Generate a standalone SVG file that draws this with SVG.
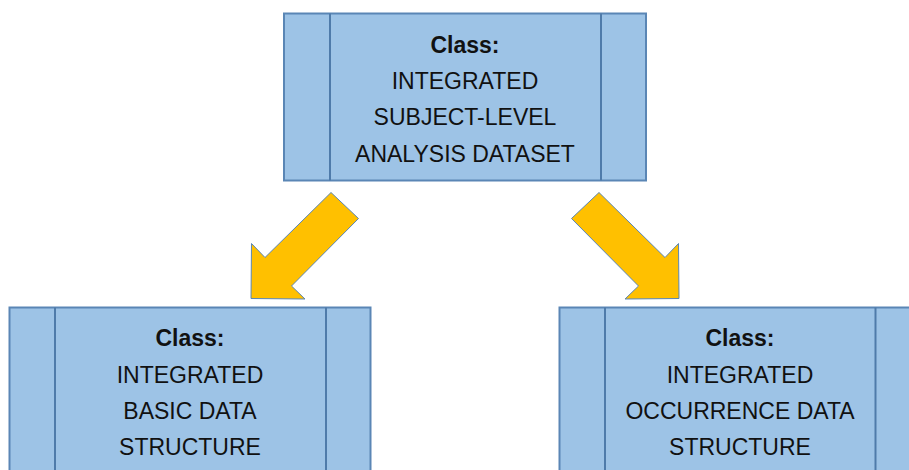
<svg xmlns="http://www.w3.org/2000/svg" width="909" height="470" viewBox="0 0 909 470">
<style>
.box{fill:#9DC3E6;stroke:#5A86B5;stroke-width:2}
.div{stroke:#4F7BAA;stroke-width:2}
.arr{fill:#FFC000;stroke:#5A86B5;stroke-width:1}
text{font-family:"Liberation Sans",Arial,sans-serif;font-size:23px;fill:#111;text-anchor:middle}
.b{font-weight:bold}
</style>
<rect width="909" height="470" fill="#fff"/>
<g id="top">
<rect class="box" x="284" y="13.5" width="362" height="167"/>
<line class="div" x1="330" y1="13.5" x2="330" y2="180.5"/>
<line class="div" x1="601" y1="13.5" x2="601" y2="180.5"/>
<text class="b" x="465" y="53">Class:</text>
<text x="465" y="89">INTEGRATED</text>
<text x="465" y="125">SUBJECT-LEVEL</text>
<text x="465" y="162">ANALYSIS DATASET</text>
</g>
<g id="left">
<rect class="box" x="9.5" y="307.5" width="361" height="170"/>
<line class="div" x1="55" y1="307.5" x2="55" y2="477"/>
<line class="div" x1="326" y1="307.5" x2="326" y2="477"/>
<text class="b" x="190" y="346">Class:</text>
<text x="190" y="383">INTEGRATED</text>
<text x="190" y="419">BASIC DATA</text>
<text x="190" y="455">STRUCTURE</text>
</g>
<g id="right">
<rect class="box" x="559.5" y="307.5" width="362" height="170"/>
<line class="div" x1="605" y1="307.5" x2="605" y2="477"/>
<line class="div" x1="875.5" y1="307.5" x2="875.5" y2="477"/>
<text class="b" x="740" y="346">Class:</text>
<text x="740" y="383">INTEGRATED</text>
<text x="740" y="419">OCCURRENCE DATA</text>
<text x="740" y="455">STRUCTURE</text>
</g>
<g id="connectors">
<polygon class="arr" points="331,192.5 358.5,218.5 291.5,286 305,299 251,298.5 251.5,243.5 265,257.5"/>
<polygon class="arr" points="599,192.5 571.5,218.5 638.5,286 625,299 679,298.5 678.5,243.5 665,257.5"/>
</g>
</svg>
